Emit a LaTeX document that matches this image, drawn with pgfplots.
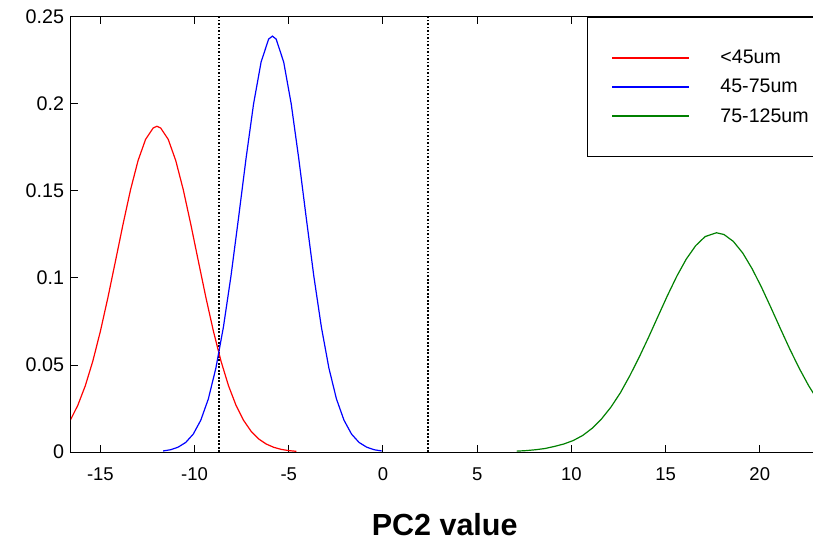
\documentclass[border=0pt]{standalone}
\usepackage{fontspec}
\setmainfont{Liberation Sans}
\usepackage{pgfplots}
\pgfplotsset{compat=1.18}
\definecolor{mgreen}{RGB}{0,128,0}
\begin{document}
\begin{tikzpicture}
\begin{axis}[name=ax, scale only axis, width=743.4bp, height=435bp,
  xmin=-16.56, xmax=22.9, ymin=0, ymax=0.25,
  xtick={-15,-10,-5,0,5,10,15,20},
  ytick={0,0.05,0.1,0.15,0.2,0.25},
  ytick pos=left,
  tick align=inside, major tick length=7bp,
  axis line style={line width=1bp, black},
  tick style={line width=1bp, black},
  /pgf/number format/assume math mode=true,
  xticklabel style={font=\fontsize{18.5bp}{22bp}\selectfont, anchor=base, yshift=-28bp},
  yticklabel style={font=\fontsize{19.7bp}{23bp}\selectfont, xshift=-3.5bp,
    /pgf/number format/fixed, /pgf/number format/precision=2},
  xlabel={PC2 value},
  xlabel style={font=\bfseries\fontsize{30.5bp}{36bp}\selectfont,
    at={(axis description cs:0.5,0)}, anchor=base, yshift=-83bp, xshift=2bp},
  legend style={at={(axis description cs:0.6937,1)}, anchor=north west,
    draw=black, line width=1bp, fill=white,
    font=\fontsize{19.6bp}{23bp}\selectfont,
    inner xsep=24.5bp, inner ysep=33bp, row sep=14bp, column sep=30.85bp,
    nodes={inner sep=0pt}},
  legend cell align=left,
  legend image code/.code={\draw[#1, line width=1.2bp] (0bp,0bp) -- (76.7bp,0bp);},
]
\addplot[black, line width=1.4bp, dash pattern=on 1.6bp off 1.9bp, forget plot]
  coordinates {(-8.7,0) (-8.7,0.25)};
\addplot[black, line width=1.4bp, dash pattern=on 1.6bp off 1.9bp, forget plot]
  coordinates {(2.4,0) (2.4,0.25)};
\addplot[red, line width=1.2bp] table {
x y
-16.6 0.0182
-16.2 0.0268
-15.8 0.0381
-15.4 0.0523
-15.0 0.0694
-14.6 0.0888
-14.2 0.1097
-13.8 0.1308
-13.4 0.1507
-13.0 0.1675
-12.6 0.1797
-12.2 0.1862
-12.0 0.1872
-11.8 0.1862
-11.4 0.1797
-11.0 0.1675
-10.6 0.1507
-10.2 0.1308
-9.8 0.1097
-9.4 0.0888
-9.0 0.0694
-8.6 0.0523
-8.2 0.0381
-7.8 0.0268
-7.4 0.0182
-7.0 0.0119
-6.6 0.0075
-6.2 0.0046
-5.8 0.0027
-5.4 0.0015
-5.0 0.0008
-4.6 0.0004
};
\addlegendentry{<45um}
\addplot[blue, line width=1.2bp] table {
x y
-11.67 0.0006
-11.27 0.0013
-10.87 0.0028
-10.47 0.0055
-10.07 0.0103
-9.67 0.0183
-9.27 0.0305
-8.87 0.0482
-8.47 0.0718
-8.07 0.1010
-7.67 0.1343
-7.27 0.1686
-6.87 0.2000
-6.47 0.2241
-6.07 0.2373
-5.87 0.2390
-5.67 0.2373
-5.27 0.2241
-4.87 0.2000
-4.47 0.1686
-4.07 0.1343
-3.67 0.1010
-3.27 0.0718
-2.87 0.0482
-2.47 0.0305
-2.07 0.0183
-1.67 0.0103
-1.27 0.0055
-0.87 0.0028
-0.47 0.0013
-0.07 0.0006
};
\addlegendentry{45-75um}
\addplot[mgreen, line width=1.2bp] table {
x y
7.1 0.0005
7.6 0.0008
8.1 0.0013
8.6 0.0020
9.1 0.0032
9.6 0.0046
10.1 0.0066
10.6 0.0095
11.1 0.0136
11.6 0.0190
12.1 0.0258
12.6 0.0340
13.1 0.0438
13.6 0.0545
14.1 0.0660
14.6 0.0780
15.1 0.0899
15.6 0.1011
16.1 0.1109
16.6 0.1186
17.1 0.1238
17.7 0.1260
18.1 0.1250
18.6 0.1210
19.1 0.1143
19.6 0.1052
20.1 0.0945
20.6 0.0828
21.1 0.0708
21.6 0.0590
22.1 0.0480
22.6 0.0380
23.1 0.0294
};
\addlegendentry{75-125um}
\end{axis}
\pgfresetboundingbox
\useasboundingbox ([shift={(-71bp,-89bp)}]ax.south west) rectangle ([shift={(742bp,17bp)}]ax.north west);
\end{tikzpicture}
\end{document}
